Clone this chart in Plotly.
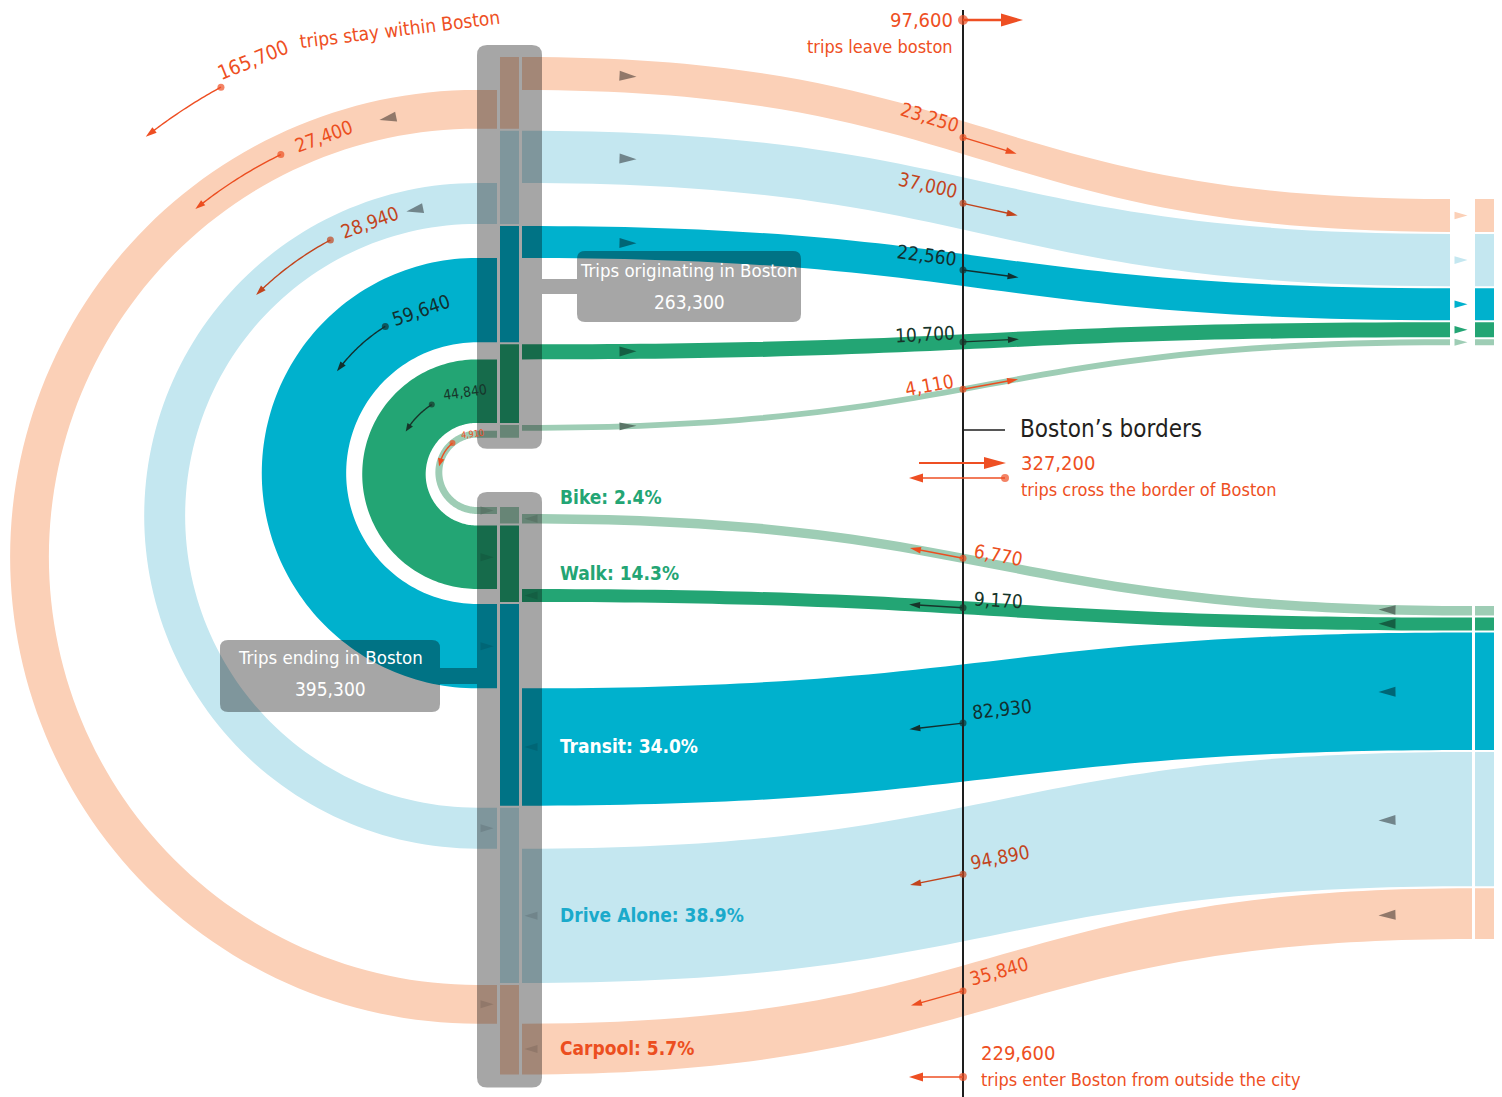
import math
import plotly.graph_objects as go

# ---------------- data ----------------
modes = ["Carpool", "Drive Alone", "Transit", "Walk", "Bike"]
stay_trips = [27400, 28940, 59640, 44840, 4910]      # trips staying within Boston
leave_trips = [23250, 37000, 22560, 10700, 4110]     # trips leaving Boston
enter_trips = [35840, 94890, 82930, 9170, 6770]      # trips entering Boston
mode_share_labels = ["5.7%", "38.9%", "34.0%", "14.3%", "2.4%"]
stay_total = 165700
leave_total = 97600
enter_total = 229600
cross_total = 327200
origin_total = 263300
ending_total = 395300

# ---------------- style / layout ----------------
FONT = "Liberation Sans Narrow, Arial Narrow, DejaVu Sans Condensed, sans-serif"
band_col = ["#FBD0B7", "#C4E7F0", "#00B1CD", "#23A574", "#9ECDB5"]
num_col = ["#EC4E20", "#C2441C", "#12302F", "#17352A", "#EC4E20"]
mode_txt_col = ["#EC4E20", "#1AAACB", "#FFFFFF", "#23A574", "#23A574"]
ORANGE = "#EE4F23"
DARK = "#1E1E1E"
OVERLAY = "rgba(0,0,0,0.35)"

S = 0.001415          # pixels per trip
GAP = 2.0
BORDER_X = 963
COL_X0, COL_X1 = 500, 519
BOX_X0, BOX_X1 = 477, 542
ARC_END_X = 497
BAND_X0 = 522
OUT_X1 = 1450
IN_X1 = 1472
STUB_X0, STUB_X1 = 1475, 1494
TOP_Y0 = 57
BOT_Y0 = 507
OUT_RIGHT_Y0 = 199
IN_RIGHT_Y0 = 606
ARC_CX = 477

arc_lab_phi = [20, 20, 19, 8, 7]
arc_dot_phi = [26, 28, 32, 33, 40]
arc_end_phi = [39, 45, 54, 59, 81]
arc_lab_size = [19, 19, 19, 14, 9]

NUM_SIZE = 19
TOTAL_SIZE = 20
CAPTION_SIZE = 18

shapes = []
annotations = []
dots_x, dots_y, dots_c, dots_s = [], [], [], []


def shade(hexc, f):
    h = hexc.lstrip("#")
    r, g, b = int(h[0:2], 16), int(h[2:4], 16), int(h[4:6], 16)
    return "rgb(%d,%d,%d)" % (r * f, g * f, b * f)


def path_from(pts, close=True):
    s = "M %.2f,%.2f " % pts[0] + " ".join("L %.2f,%.2f" % p for p in pts[1:])
    return s + (" Z" if close else "")


def add_fill(path, fill):
    shapes.append(dict(type="path", path=path, fillcolor=fill, line=dict(width=0),
                       xref="x", yref="y", layer="below"))


def add_line(pts, color, width):
    shapes.append(dict(type="path", path=path_from(pts, close=False), fillcolor="rgba(0,0,0,0)",
                       line=dict(width=width, color=color), xref="x", yref="y", layer="below"))


def tri(cx, cy, d, L, W, color):
    dx, dy = d
    nx, ny = -dy, dx
    tip = (cx + dx * L / 2, cy + dy * L / 2)
    bx, by = cx - dx * L / 2, cy - dy * L / 2
    add_fill(path_from([tip, (bx + nx * W, by + ny * W), (bx - nx * W, by - ny * W)]), color)


def arrow(tail, tip, color, width=1.5, L=11, W=3.5):
    dx, dy = tip[0] - tail[0], tip[1] - tail[1]
    n = math.hypot(dx, dy)
    d = (dx / n, dy / n)
    base = (tip[0] - d[0] * L * 0.8, tip[1] - d[1] * L * 0.8)
    add_line([tail, base], color, width)
    tri(tip[0] - d[0] * L / 2, tip[1] - d[1] * L / 2, d, L, W, color)


def rrect(x0, y0, x1, y1, r):
    return ("M %f,%f L %f,%f Q %f,%f %f,%f L %f,%f Q %f,%f %f,%f L %f,%f Q %f,%f %f,%f "
            "L %f,%f Q %f,%f %f,%f Z") % (
        x0 + r, y0, x1 - r, y0, x1, y0, x1, y0 + r, x1, y1 - r, x1, y1, x1 - r, y1,
        x0 + r, y1, x0, y1, x0, y1 - r, x0, y0 + r, x0, y0, x0 + r, y0)


def bez(x0, y0, x1, y1, t):
    xm = (x0 + x1) / 2
    mt = 1 - t
    x = mt ** 3 * x0 + 3 * mt ** 2 * t * xm + 3 * mt * t ** 2 * xm + t ** 3 * x1
    y = mt ** 3 * y0 + 3 * mt ** 2 * t * y0 + 3 * mt * t ** 2 * y1 + t ** 3 * y1
    dx = 3 * mt ** 2 * (xm - x0) + 3 * t ** 2 * (x1 - xm)
    dy = 6 * mt * t * (y1 - y0)
    return x, y, dx, dy


def at_x(x0, y0, x1, y1, x):
    lo, hi = 0.0, 1.0
    for _ in range(60):
        m = (lo + hi) / 2
        if bez(x0, y0, x1, y1, m)[0] < x:
            lo = m
        else:
            hi = m
    _, y, dx, dy = bez(x0, y0, x1, y1, lo)
    n = math.hypot(dx, dy)
    return y, (dx / n, dy / n)


def band_path(x0, a0, b0, x1, a1, b1):
    xm = (x0 + x1) / 2
    return ("M %f,%f C %f,%f %f,%f %f,%f L %f,%f C %f,%f %f,%f %f,%f Z" %
            (x0, a0, xm, a0, xm, a1, x1, a1, x1, b1, xm, b1, xm, b0, x0, b0))


def text(x, y, s, size, color, anchor="center", angle=0, bold=False):
    annotations.append(dict(x=x, y=y, xref="x", yref="y",
                            text=("<b>%s</b>" % s) if bold else s, showarrow=False,
                            font=dict(family=FONT, size=size, color=color),
                            xanchor=anchor, yanchor="middle", textangle=angle))


def est_w(s, size):
    return size * sum(0.29 if c == "," else 0.572 for c in s)


n = len(modes)
# ---------- stacking: origin column (top) ----------
top_leave, top_stay, top_seg = [], [], []
y = TOP_Y0
for i in range(n):
    hl, hs = leave_trips[i] * S, stay_trips[i] * S
    top_seg.append((y, y + hl + hs))
    top_leave.append((y, y + hl))
    top_stay.append((y + hl, y + hl + hs))
    y += hl + hs + GAP

# ---------- stacking: ending column (bottom), reversed order ----------
order_bot = list(range(n))[::-1]
bot_stay, bot_enter, bot_seg = [None] * n, [None] * n, [None] * n
y = BOT_Y0
for i in order_bot:
    hs, he = stay_trips[i] * S, enter_trips[i] * S
    bot_seg[i] = (y, y + hs + he)
    bot_stay[i] = (y, y + hs)
    bot_enter[i] = (y + hs, y + hs + he)
    y += hs + he + GAP

# ---------- right-hand stacks ----------
right_out = [None] * n
y = OUT_RIGHT_Y0
for i in range(n):
    right_out[i] = (y, y + leave_trips[i] * S)
    y += leave_trips[i] * S + GAP
right_in = [None] * n
y = IN_RIGHT_Y0
for i in order_bot:
    right_in[i] = (y, y + enter_trips[i] * S)
    y += enter_trips[i] * S + GAP

# ---------- stay arcs ----------
arc_geo = []
for i in range(n):
    ta, tb = top_stay[i]
    ba, bb = bot_stay[i]
    cy = (ta + bb) / 2
    Ro = (bb - ta) / 2
    Ri = (ba - tb) / 2
    arc_geo.append((cy, Ro, Ri))
    K = 120
    outer = [(ARC_CX - Ro * math.sin(math.pi * k / K), cy - Ro * math.cos(math.pi * k / K)) for k in range(K + 1)]
    inner = [(ARC_CX - Ri * math.sin(math.pi * k / K), cy - Ri * math.cos(math.pi * k / K)) for k in range(K, -1, -1)]
    pts = [(ARC_END_X, ta)] + outer + [(ARC_END_X, bb), (ARC_END_X, ba)] + inner + [(ARC_END_X, tb)]
    add_fill(path_from(pts), band_col[i])

# ---------- leaving / entering bands ----------
for i in range(n):
    a0, b0 = top_leave[i]
    a1, b1 = right_out[i]
    add_fill(band_path(BAND_X0, a0, b0, OUT_X1, a1, b1), band_col[i])
    add_fill(rrect(STUB_X0, a1, STUB_X1, b1, 0.1), band_col[i])
    a0, b0 = bot_enter[i]
    a1, b1 = right_in[i]
    add_fill(band_path(BAND_X0, a0, b0, IN_X1, a1, b1), band_col[i])
    add_fill(rrect(STUB_X0, a1, STUB_X1, b1, 0.1), band_col[i])

# ---------- column segments ----------
for i in range(n):
    add_fill(rrect(COL_X0, top_seg[i][0], COL_X1, top_seg[i][1], 0.1), band_col[i])
    add_fill(rrect(COL_X0, bot_seg[i][0], COL_X1, bot_seg[i][1], 0.1), band_col[i])

# ---------- translucent grey boxes ----------
add_fill(rrect(BOX_X0, TOP_Y0 - 12, BOX_X1, top_seg[-1][1] + 11, 10), OVERLAY)
add_fill(rrect(BOX_X0, BOT_Y0 - 15, BOX_X1, bot_seg[0][1] + 13, 10), OVERLAY)
add_fill(rrect(577, 251, 801, 322, 8), OVERLAY)
add_fill(rrect(BOX_X1, 279, 577, 294, 0.1), OVERLAY)
add_fill(rrect(220, 640, 440, 712, 8), OVERLAY)
add_fill(rrect(440, 668, BOX_X0, 684, 0.1), OVERLAY)

# ---------- flow direction triangles ----------
for i in range(n):
    dark = shade(band_col[i], 0.58)
    a0, b0 = top_leave[i]
    a1, b1 = right_out[i]
    yc, d = at_x(BAND_X0, (a0 + b0) / 2, OUT_X1, (a1 + b1) / 2, 628)
    tri(628, yc, d, 17, min(5, (b0 - a0) / 2 + 1), dark)
    tri(1461, (a1 + b1) / 2, (1, 0), 13, min(3.8, (b1 - a1) / 2 + 0.5), band_col[i])
    a0, b0 = bot_enter[i]
    a1, b1 = right_in[i]
    yc, d = at_x(BAND_X0, (a0 + b0) / 2, IN_X1, (a1 + b1) / 2, 1387)
    tri(1387, yc, (-d[0], -d[1]), 17, min(5, (b1 - a1) / 2), dark)
    tri(487, sum(bot_stay[i]) / 2, (1, 0), 13, 4, dark)
    tri(531, sum(bot_enter[i]) / 2, (-1, 0), 13, 4, dark)
for i in (0, 1):
    cy, Ro, Ri = arc_geo[i]
    Rm = (Ro + Ri) / 2
    ph = math.radians(11.5)
    tri(ARC_CX - Rm * math.sin(ph), cy - Rm * math.cos(ph), (-math.cos(ph), math.sin(ph)), 17, 5,
        shade(band_col[i], 0.58))

# ---------- border line ----------
add_line([(BORDER_X, 10), (BORDER_X, 1097)], DARK, 2)
add_line([(BORDER_X, 430), (1005, 430)], DARK, 1.5)

# ---------- border crossings: dots, arrows, numbers ----------
for i in range(n):
    a0, b0 = top_leave[i]
    a1, b1 = right_out[i]
    yc, d = at_x(BAND_X0, (a0 + b0) / 2, OUT_X1, (a1 + b1) / 2, BORDER_X)
    up = (d[1], -d[0])
    arrow((BORDER_X, yc), (BORDER_X + 56 * d[0], yc + 56 * d[1]), num_col[i], 1.4, 11, 3.3)
    dots_x.append(BORDER_X); dots_y.append(yc); dots_c.append(num_col[i]); dots_s.append(7)
    s = "{:,}".format(leave_trips[i])
    w = est_w(s, NUM_SIZE)
    off = w / 2 + 8
    text(BORDER_X - off * d[0] + 10 * up[0], yc - off * d[1] + 10 * up[1], s, NUM_SIZE, num_col[i],
         angle=math.degrees(math.atan2(d[1], d[0])))

    a0, b0 = bot_enter[i]
    a1, b1 = right_in[i]
    yc, d = at_x(BAND_X0, (a0 + b0) / 2, IN_X1, (a1 + b1) / 2, BORDER_X)
    up = (d[1], -d[0])
    arrow((BORDER_X, yc), (BORDER_X - 54 * d[0], yc - 54 * d[1]), num_col[i], 1.4, 11, 3.3)
    dots_x.append(BORDER_X); dots_y.append(yc); dots_c.append(num_col[i]); dots_s.append(7)
    s = "{:,}".format(enter_trips[i])
    w = est_w(s, NUM_SIZE)
    off = w / 2 + 10
    text(BORDER_X + off * d[0] + 10 * up[0], yc + off * d[1] + 10 * up[1], s, NUM_SIZE, num_col[i],
         angle=math.degrees(math.atan2(d[1], d[0])))

# ---------- stay-arc numbers with curved arrows ----------
for i in range(n):
    cy, Ro, Ri = arc_geo[i]
    Rm = (Ro + Ri) / 2
    ph = math.radians(arc_lab_phi[i])
    text(ARC_CX - Rm * math.sin(ph), cy - Rm * math.cos(ph), "{:,}".format(stay_trips[i]),
         arc_lab_size[i], num_col[i], angle=-arc_lab_phi[i])
    p0, p1 = math.radians(arc_dot_phi[i]), math.radians(arc_end_phi[i])
    hl = 10 if i < 3 else 8
    p1b = p1 - hl * 0.8 / Rm
    pts = [(ARC_CX - Rm * math.sin(p0 + (p1b - p0) * k / 30), cy - Rm * math.cos(p0 + (p1b - p0) * k / 30))
           for k in range(31)]
    add_line(pts, num_col[i], 1.4)
    pm = p1 - hl / 2 / Rm
    tri(ARC_CX - Rm * math.sin(pm), cy - Rm * math.cos(pm), (-math.cos(pm), math.sin(pm)), hl, 3.3,
        num_col[i])
    dots_x.append(ARC_CX - Rm * math.sin(p0)); dots_y.append(cy - Rm * math.cos(p0))
    dots_c.append(num_col[i]); dots_s.append(7 if i < 3 else 6)

# ---------- "trips stay within Boston" ----------
cy0 = arc_geo[0][0]
R_txt = arc_geo[0][1] + 70
ph = math.radians(24.3)
text(ARC_CX - (R_txt + 8) * math.sin(ph), cy0 - (R_txt + 8) * math.cos(ph), "{:,}".format(stay_total),
     TOTAL_SIZE, ORANGE, angle=-22)
ph = math.radians(8.3)
text(ARC_CX - (R_txt - 4) * math.sin(ph), cy0 - (R_txt - 4) * math.cos(ph), "trips stay within Boston",
     CAPTION_SIZE + 1, ORANGE, angle=-7)
p0, p1 = math.radians(28.6), math.radians(38.2)
R_arr = R_txt - 2
p1b = p1 - 8 / R_arr
pts = [(ARC_CX - R_arr * math.sin(p0 + (p1b - p0) * k / 30), cy0 - R_arr * math.cos(p0 + (p1b - p0) * k / 30))
       for k in range(31)]
add_line(pts, ORANGE, 1.4)
pm = p1 - 5 / R_arr
tri(ARC_CX - R_arr * math.sin(pm), cy0 - R_arr * math.cos(pm), (-math.cos(pm), math.sin(pm)), 11, 3.5, ORANGE)
dots_x.append(ARC_CX - R_arr * math.sin(p0)); dots_y.append(cy0 - R_arr * math.cos(p0))
dots_c.append(ORANGE); dots_s.append(7)

# ---------- totals at the border ----------
arrow((BORDER_X, 20), (1023, 20), ORANGE, 2.5, 22, 6.5)
dots_x.append(BORDER_X); dots_y.append(20); dots_c.append(ORANGE); dots_s.append(10)
text(955, 20, "{:,}".format(leave_total), TOTAL_SIZE, ORANGE, anchor="right")
text(955, 46, "trips leave boston", CAPTION_SIZE, ORANGE, anchor="right")

arrow((919, 463), (1006, 463), ORANGE, 2, 22, 6)
arrow((1005, 478), (909, 478), ORANGE, 1.5, 14, 4.5)
dots_x.append(1005); dots_y.append(478); dots_c.append(ORANGE); dots_s.append(8)
text(1019, 463, "{:,}".format(cross_total), TOTAL_SIZE, ORANGE, anchor="left")
text(1019, 489, "trips cross the border of Boston", CAPTION_SIZE, ORANGE, anchor="left")

arrow((BORDER_X, 1077), (909, 1077), ORANGE, 1.5, 14, 4.5)
dots_x.append(BORDER_X); dots_y.append(1077); dots_c.append(ORANGE); dots_s.append(8)
text(979, 1053, "{:,}".format(enter_total), TOTAL_SIZE, ORANGE, anchor="left")
text(979, 1079, "trips enter Boston from outside the city", CAPTION_SIZE, ORANGE, anchor="left")

text(1018, 429, "Boston’s borders", 24, "#231F20", anchor="left")

# ---------- box labels ----------
text(689, 270, "Trips originating in Boston", 18.5, "white")
text(689, 302, "{:,}".format(origin_total), 19, "white")
text(330, 657, "Trips ending in Boston", 18.5, "white")
text(330, 689, "{:,}".format(ending_total), 19, "white")

# ---------- mode labels ----------
for i in range(n):
    a0, b0 = bot_enter[i]
    a1, b1 = right_in[i]
    yc, d = at_x(BAND_X0, (a0 + b0) / 2, IN_X1, (a1 + b1) / 2, 600)
    if b0 - a0 < 30:
        yc = yc - 23
    text(558, yc, "%s: %s" % (modes[i], mode_share_labels[i]), 19, mode_txt_col[i], anchor="left", bold=True)

fig = go.Figure()
fig.add_trace(go.Scatter(x=dots_x, y=dots_y, mode="markers",
                         marker=dict(color=dots_c, size=dots_s, line=dict(width=0)),
                         hoverinfo="skip", showlegend=False))
fig.update_layout(
    width=1502, height=1097,
    margin=dict(l=0, r=0, t=0, b=0),
    paper_bgcolor="white", plot_bgcolor="white",
    xaxis=dict(range=[0, 1502], visible=False, fixedrange=True),
    yaxis=dict(range=[1097, 0], visible=False, fixedrange=True),
    shapes=shapes, annotations=annotations, showlegend=False,
)
fig.write_html("out.html", config={"displayModeBar": False},
               post_script="document.body.style.margin='0';document.body.style.overflow='hidden';")
